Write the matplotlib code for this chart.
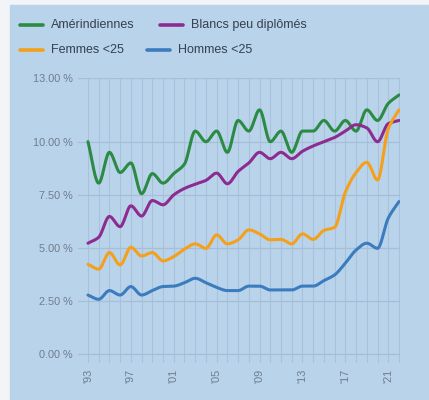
import numpy as np
import matplotlib
matplotlib.use("Agg")
import matplotlib.pyplot as plt
from matplotlib.lines import Line2D

# data (percent)
years = list(range(1993, 2023))
amerindiennes = [10.0, 8.05, 9.5, 8.55, 9.0, 7.55, 8.5, 8.05, 8.5, 8.95,
                 10.5, 10.0, 10.5, 9.5, 11.0, 10.5, 11.5, 10.0, 10.5, 9.5,
                 10.5, 10.5, 11.0, 10.5, 11.0, 10.5, 11.5, 11.0, 11.8, 12.2]
blancs = [5.22, 5.5, 6.48, 6.0, 6.98, 6.5, 7.23, 7.03, 7.5, 7.8,
          8.0, 8.18, 8.52, 8.02, 8.6, 9.0, 9.5, 9.2, 9.5, 9.2,
          9.55, 9.8, 10.0, 10.2, 10.5, 10.8, 10.65, 10.0, 10.85, 11.0]
femmes = [4.23, 4.0, 4.78, 4.2, 5.03, 4.62, 4.78, 4.39, 4.59, 4.94,
          5.19, 4.98, 5.61, 5.19, 5.38, 5.85, 5.66, 5.38, 5.4, 5.19,
          5.66, 5.4, 5.82, 5.97, 7.62, 8.55, 9.03, 8.2, 10.6, 11.5]
hommes = [2.78, 2.58, 2.99, 2.78, 3.18, 2.78, 2.99, 3.18, 3.2, 3.36,
          3.57, 3.36, 3.14, 2.99, 2.99, 3.2, 3.2, 3.02, 3.02, 3.02,
          3.2, 3.2, 3.46, 3.73, 4.28, 4.9, 5.22, 4.98, 6.4, 7.18]

labels = ["Amérindiennes", "Blancs peu diplômés", "Femmes <25", "Hommes <25"]
series = [amerindiennes, blancs, femmes, hommes]
colors = ["#2b8a44", "#8d2c90", "#f4a01b", "#3b7cbf"]

yticks = [0, 2.5, 5, 7.5, 10, 13]
xticks = [1993, 1997, 2001, 2005, 2009, 2013, 2017, 2021]


def monotone(x, y, n=20):
    # monotone cubic (Fritsch-Carlson) like d3 curveMonotoneX
    x = np.asarray(x, float)
    y = np.asarray(y, float)
    h = np.diff(x)
    d = np.diff(y) / h
    m = np.zeros_like(y)
    m[0], m[-1] = d[0], d[-1]
    for i in range(1, len(y) - 1):
        if d[i - 1] * d[i] <= 0:
            m[i] = 0
        else:
            w1 = 2 * h[i] + h[i - 1]
            w2 = h[i] + 2 * h[i - 1]
            m[i] = (w1 + w2) / (w1 / d[i - 1] + w2 / d[i])
    xs, ys = [], []
    for i in range(len(x) - 1):
        t = np.linspace(0, 1, n, endpoint=False)
        h00 = 2 * t**3 - 3 * t**2 + 1
        h10 = t**3 - 2 * t**2 + t
        h01 = -2 * t**3 + 3 * t**2
        h11 = t**3 - t**2
        xs.append(x[i] + t * h[i])
        ys.append(h00 * y[i] + h10 * h[i] * m[i] + h01 * y[i + 1] + h11 * h[i] * m[i + 1])
    xs.append([x[-1]])
    ys.append([y[-1]])
    return np.concatenate(xs), np.concatenate(ys)


plt.rcParams['font.family'] = ['Liberation Sans', 'DejaVu Sans']

fig = plt.figure(figsize=(4.29, 4.0), dpi=100)
fig.patch.set_facecolor("#f2f4f8")
panel = plt.Rectangle((10 / 429, 0), 1 - 10 / 429, 395 / 400,
                      transform=fig.transFigure, color="#b9d3ea", zorder=0)
fig.add_artist(panel)

ax = fig.add_axes([78 / 429, 37 / 400, 321.5 / 429, 285 / 400])
ax.set_facecolor("none")
for s in ax.spines.values():
    s.set_visible(False)

for vals, c in zip(series, colors):
    sx, sy = monotone(years, vals)
    ax.plot(sx, sy, color=c, lw=2.2, solid_capstyle='round', zorder=3)

ax.set_xlim(1993 - 0.93, 2022.05)
ax.set_ylim(-0.42, 13)
ax.set_xticks(years, minor=True)
ax.set_xticks(xticks)
ax.set_xticklabels(["'" + str(y)[2:] for y in xticks], rotation=90)
ax.set_yticks(yticks)
ax.set_yticklabels(["%.2f %%" % v for v in yticks])
ax.tick_params(which='both', length=0, labelsize=7.8, labelcolor="#6e7d8d", pad=4)
ax.grid(True, which='both', axis='x', color="#a9c1da", lw=0.8, zorder=1)
ax.grid(True, axis='y', color="#a6bed7", lw=0.9, zorder=1)

# legend (two flowing rows)
leg_pos = [(20, 25), (160, 25), (20, 50), (147, 50)]
for lab, c, (px, py) in zip(labels, colors, leg_pos):
    yy = 1 - py / 400
    fig.add_artist(Line2D([px / 429, (px + 23) / 429], [yy, yy], color=c, lw=2.6,
                          solid_capstyle='round', transform=fig.transFigure))
    fig.text((px + 31) / 429, yy, lab, fontsize=9, color="#34414f", va='center', ha='left')

fig.savefig("out.png", dpi=100, facecolor=fig.get_facecolor())
